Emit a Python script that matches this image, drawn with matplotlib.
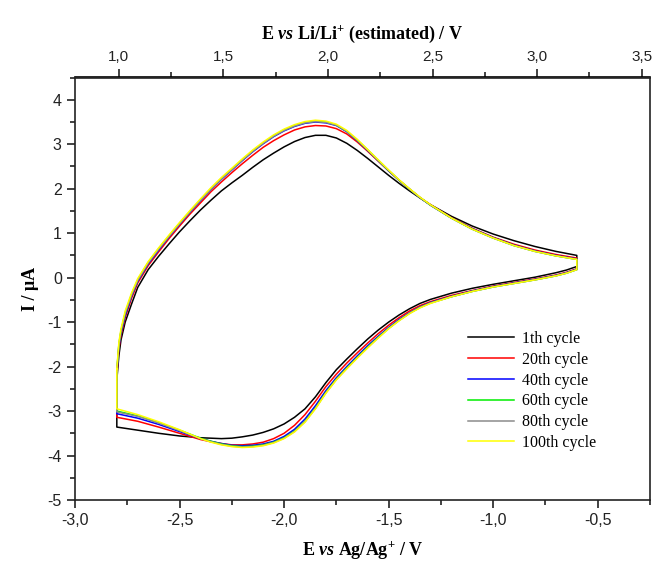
import numpy as np
import matplotlib.pyplot as plt
from matplotlib.ticker import MultipleLocator, FixedLocator, FuncFormatter

plt.rcParams['font.family'] = 'Liberation Sans'
plt.rcParams['axes.unicode_minus'] = False
plt.rcParams['mathtext.fontset'] = 'custom'
plt.rcParams['mathtext.rm'] = 'Liberation Serif:bold'
plt.rcParams['mathtext.it'] = 'Liberation Serif:italic:bold'
plt.rcParams['mathtext.bf'] = 'Liberation Serif:bold'


# Potential sweep (V vs Ag/Ag+), shared by all cycles
E_up = [-2.80, -2.79, -2.78, -2.76, -2.73, -2.70, -2.65, -2.60, -2.55, -2.50,
        -2.45, -2.40, -2.35, -2.30, -2.25, -2.20, -2.15, -2.10, -2.05, -2.00,
        -1.95, -1.90, -1.85, -1.80, -1.75, -1.70, -1.65, -1.60, -1.55, -1.50,
        -1.45, -1.40, -1.35, -1.30, -1.20, -1.10, -1.00, -0.90, -0.80, -0.70,
        -0.60]
E_down = [-0.60, -0.65, -0.70, -0.80, -0.90, -1.00, -1.10, -1.20, -1.30, -1.35,
          -1.40, -1.45, -1.50, -1.55, -1.60, -1.65, -1.70, -1.75, -1.80, -1.85,
          -1.90, -1.95, -2.00, -2.05, -2.10, -2.15, -2.20, -2.25, -2.30, -2.35,
          -2.40, -2.50, -2.60, -2.70, -2.80]

# Current (uA), anodic branch
I_up_1 = [-2.30, -1.75, -1.40, -1.00, -0.60, -0.22, 0.18, 0.48, 0.76, 1.03,
          1.28, 1.52, 1.74, 1.95, 2.13, 2.30, 2.48, 2.65, 2.80, 2.94,
          3.06, 3.15, 3.20, 3.20, 3.14, 3.02, 2.86, 2.68, 2.49, 2.30,
          2.12, 1.95, 1.79, 1.64, 1.38, 1.16, 0.98, 0.83, 0.70, 0.59, 0.50]
I_up_20 = [-2.20, -1.60, -1.30, -0.90, -0.47, -0.12, 0.27, 0.58, 0.88, 1.16,
           1.43, 1.68, 1.93, 2.15, 2.36, 2.56, 2.75, 2.93, 3.08, 3.21,
           3.32, 3.39, 3.42, 3.41, 3.35, 3.23, 3.05, 2.84, 2.62, 2.40,
           2.19, 1.99, 1.80, 1.64, 1.35, 1.11, 0.91, 0.75, 0.62, 0.52, 0.44]
I_up_40 = [-2.15, -1.55, -1.25, -0.85, -0.42, -0.08, 0.31, 0.62, 0.92, 1.20,
           1.47, 1.73, 1.98, 2.21, 2.42, 2.63, 2.83, 3.01, 3.17, 3.30,
           3.40, 3.47, 3.50, 3.48, 3.42, 3.28, 3.08, 2.86, 2.63, 2.40,
           2.19, 1.99, 1.80, 1.63, 1.34, 1.10, 0.90, 0.73, 0.60, 0.50, 0.42]
I_up_60 = [-2.10, -1.50, -1.20, -0.80, -0.38, -0.05, 0.34, 0.65, 0.94, 1.22,
           1.49, 1.75, 2.00, 2.23, 2.44, 2.65, 2.85, 3.03, 3.19, 3.32,
           3.42, 3.49, 3.52, 3.50, 3.43, 3.29, 3.09, 2.87, 2.64, 2.41,
           2.19, 1.99, 1.80, 1.63, 1.34, 1.09, 0.89, 0.72, 0.59, 0.49, 0.41]
I_up_80 = [-2.10, -1.50, -1.20, -0.80, -0.40, -0.06, 0.33, 0.64, 0.93, 1.21,
           1.48, 1.74, 1.99, 2.22, 2.43, 2.64, 2.84, 3.02, 3.18, 3.31,
           3.41, 3.48, 3.51, 3.49, 3.43, 3.29, 3.09, 2.87, 2.64, 2.41,
           2.19, 1.99, 1.80, 1.63, 1.34, 1.09, 0.89, 0.72, 0.59, 0.49, 0.41]
I_up_100 = [-2.05, -1.45, -1.15, -0.75, -0.35, -0.02, 0.36, 0.67, 0.96, 1.24,
            1.51, 1.77, 2.02, 2.25, 2.46, 2.67, 2.87, 3.05, 3.21, 3.34,
            3.44, 3.51, 3.54, 3.52, 3.45, 3.31, 3.11, 2.88, 2.65, 2.42,
            2.20, 2.00, 1.81, 1.64, 1.34, 1.09, 0.89, 0.72, 0.59, 0.49, 0.41]

# Current (uA), cathodic branch
I_down_1 = [0.25, 0.17, 0.11, 0.01, -0.07, -0.15, -0.24, -0.35, -0.49, -0.58,
            -0.70, -0.84, -1.00, -1.18, -1.38, -1.60, -1.83, -2.07, -2.36, -2.68,
            -2.95, -3.14, -3.29, -3.40, -3.48, -3.54, -3.58, -3.61, -3.62, -3.61,
            -3.60, -3.56, -3.50, -3.43, -3.36]
I_down_20 = [0.20, 0.12, 0.06, -0.03, -0.11, -0.19, -0.29, -0.40, -0.54, -0.63,
             -0.75, -0.90, -1.07, -1.26, -1.47, -1.69, -1.92, -2.17, -2.45, -2.78,
             -3.08, -3.32, -3.50, -3.62, -3.70, -3.74, -3.76, -3.76, -3.73, -3.69,
             -3.64, -3.50, -3.36, -3.23, -3.14]
I_down_40 = [0.19, 0.11, 0.05, -0.04, -0.12, -0.20, -0.30, -0.42, -0.56, -0.66,
             -0.79, -0.94, -1.12, -1.32, -1.53, -1.76, -2.00, -2.25, -2.54, -2.88,
             -3.18, -3.41, -3.57, -3.68, -3.74, -3.77, -3.78, -3.77, -3.73, -3.68,
             -3.62, -3.46, -3.30, -3.16, -3.06]
I_down_60 = [0.18, 0.10, 0.04, -0.05, -0.13, -0.21, -0.31, -0.43, -0.57, -0.67,
             -0.80, -0.96, -1.14, -1.34, -1.56, -1.79, -2.03, -2.28, -2.58, -2.93,
             -3.23, -3.45, -3.60, -3.70, -3.76, -3.79, -3.80, -3.78, -3.74, -3.68,
             -3.61, -3.43, -3.26, -3.11, -3.00]
I_down_80 = [0.18, 0.10, 0.04, -0.05, -0.13, -0.21, -0.31, -0.43, -0.57, -0.67,
             -0.80, -0.96, -1.14, -1.35, -1.57, -1.80, -2.04, -2.29, -2.59, -2.94,
             -3.24, -3.46, -3.61, -3.71, -3.77, -3.80, -3.81, -3.79, -3.75, -3.69,
             -3.62, -3.44, -3.27, -3.12, -3.02]
I_down_100 = [0.18, 0.10, 0.04, -0.05, -0.13, -0.21, -0.31, -0.43, -0.58, -0.68,
              -0.81, -0.97, -1.15, -1.36, -1.58, -1.81, -2.05, -2.30, -2.60, -2.95,
              -3.25, -3.47, -3.62, -3.72, -3.78, -3.81, -3.82, -3.80, -3.76, -3.70,
              -3.62, -3.42, -3.24, -3.08, -2.95]

labels = ['1th cycle', '20th cycle', '40th cycle', '60th cycle', '80th cycle', '100th cycle']
colors = ['#000000', '#ff0000', '#0000ff', '#00ee00', '#8c8c8c', '#ffff00']
up = [I_up_1, I_up_20, I_up_40, I_up_60, I_up_80, I_up_100]
down = [I_down_1, I_down_20, I_down_40, I_down_60, I_down_80, I_down_100]

LI_OFFSET = 3.79  # E vs Li/Li+ = E vs Ag/Ag+ + offset
li_major = [1.0, 1.5, 2.0, 2.5, 3.0, 3.5]
li_minor = [1.25, 1.75, 2.25, 2.75, 3.25]


fig = plt.figure(figsize=(6.59, 5.66), dpi=100)
ax = fig.add_axes([75 / 659, 66 / 566, 575 / 659, 422.5 / 566])

for lab, col, iu, idn in zip(labels, colors, up, down):
    E = np.r_[E_up, E_down, E_up[:1]]
    I = np.r_[iu, idn, iu[:1]]
    ax.plot(E, I, color=col, lw=1.1, label=lab)

ax.set_xlim(-3.0, -0.25)
ax.set_ylim(-5, 4.5)

comma = FuncFormatter(lambda v, p: f'{v:.1f}'.replace('.', ','))
ax.xaxis.set_major_locator(MultipleLocator(0.5))
ax.xaxis.set_minor_locator(MultipleLocator(0.25))
ax.xaxis.set_major_formatter(comma)
ax.yaxis.set_major_locator(MultipleLocator(1))
ax.yaxis.set_minor_locator(MultipleLocator(0.5))
ax.yaxis.set_major_formatter(FuncFormatter(lambda v, p: f'{int(round(v))}'))

ax.tick_params(which='both', direction='out', top=False, right=False,
               width=1.2, labelsize=11.5, colors='#222222')
ax.tick_params(which='major', length=6)
ax.tick_params(which='minor', length=3.5)
for s in ax.spines.values():
    s.set_linewidth(1.2)
    s.set_color('#222222')

sec = ax.secondary_xaxis('top', functions=(lambda x: x + LI_OFFSET,
                                           lambda x: x - LI_OFFSET))
sec.xaxis.set_major_locator(FixedLocator(li_major))
sec.xaxis.set_minor_locator(FixedLocator(li_minor))
sec.xaxis.set_major_formatter(comma)
sec.tick_params(which='both', direction='out', width=1.2, labelsize=11,
                colors='#222222')
sec.tick_params(which='major', length=6)
sec.tick_params(which='minor', length=3.5)
sec.spines['top'].set_linewidth(1.2)

lab_font = dict(family='Liberation Serif', weight='bold', size=13)
ax.set_xlabel('E $\\mathit{vs}$ Ag/Ag$^{+}$ / V', fontdict=lab_font, labelpad=8)
sec.set_xlabel('E $\\mathit{vs}$ Li/Li$^{+}$ (estimated) / V', fontdict=lab_font, labelpad=8)
ax.set_ylabel('I / μA', fontdict=lab_font, labelpad=6)

ax.legend(loc='upper left', bbox_to_anchor=(0.683, 0.40), frameon=False,
          prop={'family': 'Liberation Serif', 'size': 11.5},
          handlelength=2.9, labelspacing=0.3, handletextpad=0.5,
          borderpad=0, borderaxespad=0)

fig.savefig('out.png', dpi=100)
